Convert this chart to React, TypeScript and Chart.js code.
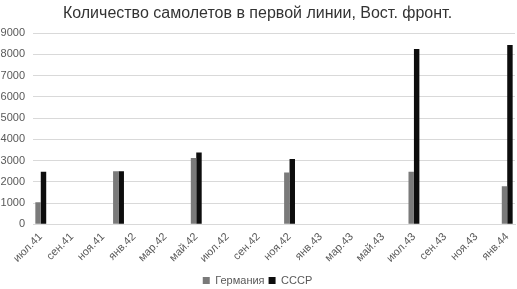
import React, { useEffect, useRef } from "react";
import { Chart, registerables } from "chart.js";

Chart.register(...registerables);

const TITLE = "Количество самолетов в первой линии, Вост. фронт.";

// Monthly axis from июл.41 to янв.44; every other month is labelled
const months = [
  "июл.41", "авг.41", "сен.41", "окт.41", "ноя.41", "дек.41",
  "янв.42", "фев.42", "мар.42", "апр.42", "май.42", "июн.42",
  "июл.42", "авг.42", "сен.42", "окт.42", "ноя.42", "дек.42",
  "янв.43", "фев.43", "мар.43", "апр.43", "май.43", "июн.43",
  "июл.43", "авг.43", "сен.43", "окт.43", "ноя.43", "дек.43",
  "янв.44",
];

const seriesNames = ["Германия", "СССР"];

// values by month (null where no data)
const germany: (number | null)[] = [
  1040, null, null, null, null, 2500,
  null, null, null, null, 3120, null,
  null, null, null, null, 2440, null,
  null, null, null, null, null, null,
  2480, null, null, null, null, null,
  1790,
];

const ussr: (number | null)[] = [
  2480, null, null, null, null, 2500,
  null, null, null, null, 3380, null,
  null, null, null, null, 3080, null,
  null, null, null, null, null, null,
  8260, null, null, null, null, null,
  8450,
];

const yTicks = [0, 1000, 2000, 3000, 4000, 5000, 6000, 7000, 8000, 9000];

export default function App() {
  const ref = useRef<HTMLCanvasElement | null>(null);

  useEffect(() => {
    if (!ref.current) return;
    const chart = new Chart(ref.current, {
      type: "bar",
      data: {
        labels: months,
        datasets: [
          {
            label: seriesNames[0],
            data: germany,
            backgroundColor: "#7a7a7a",
            borderWidth: 0,
            categoryPercentage: 0.7,
            barPercentage: 1.0,
          },
          {
            label: seriesNames[1],
            data: ussr,
            backgroundColor: "#0d0d0d",
            borderWidth: 0,
            categoryPercentage: 0.7,
            barPercentage: 1.0,
          },
        ],
      },
      options: {
        responsive: false,
        animation: false,
        layout: { padding: { left: 0, right: 2, top: 2, bottom: -7 } },
        plugins: {
          title: {
            display: true,
            text: TITLE,
            color: "#333333",
            font: { family: "Liberation Sans", size: 16, weight: "normal" },
            padding: { top: 2, bottom: 10 },
          },
          legend: {
            position: "bottom",
            labels: {
              color: "#595959",
              font: { family: "Liberation Sans", size: 11 },
              boxWidth: 7,
              boxHeight: 7,
              padding: 4,
            },
          },
          tooltip: { enabled: false },
        },
        scales: {
          x: {
            offset: true,
            grid: { display: false, drawTicks: false },
            border: { display: true, color: "#d9d9d9" },
            afterFit: (axis: any) => {
              axis.paddingLeft = 0;
              axis.paddingRight = 0;
            },
            ticks: {
              autoSkip: false,
              maxRotation: 45,
              minRotation: 45,
              padding: 6,
              color: "#595959",
              font: { family: "Liberation Sans", size: 11 },
              callback: (_v: any, i: number) => (i % 2 === 0 ? months[i] : ""),
            },
          },
          y: {
            min: 0,
            max: 9000,
            afterBuildTicks: (axis: any) => {
              axis.ticks = yTicks.map((v) => ({ value: v }));
            },
            afterFit: (axis: any) => {
              axis.width = 33;
            },
            grid: { color: "#d9d9d9", drawTicks: false },
            border: { display: false },
            ticks: {
              padding: 8,
              color: "#595959",
              font: { family: "Liberation Sans", size: 11 },
              callback: (v: any) => String(v),
            },
          },
        },
      },
    });
    return () => chart.destroy();
  }, []);

  return (
    <div style={{ position: "fixed", left: 0, top: 0, width: 517, height: 289, background: "#fff" }}>
      <canvas ref={ref} width={517} height={289} />
    </div>
  );
}
